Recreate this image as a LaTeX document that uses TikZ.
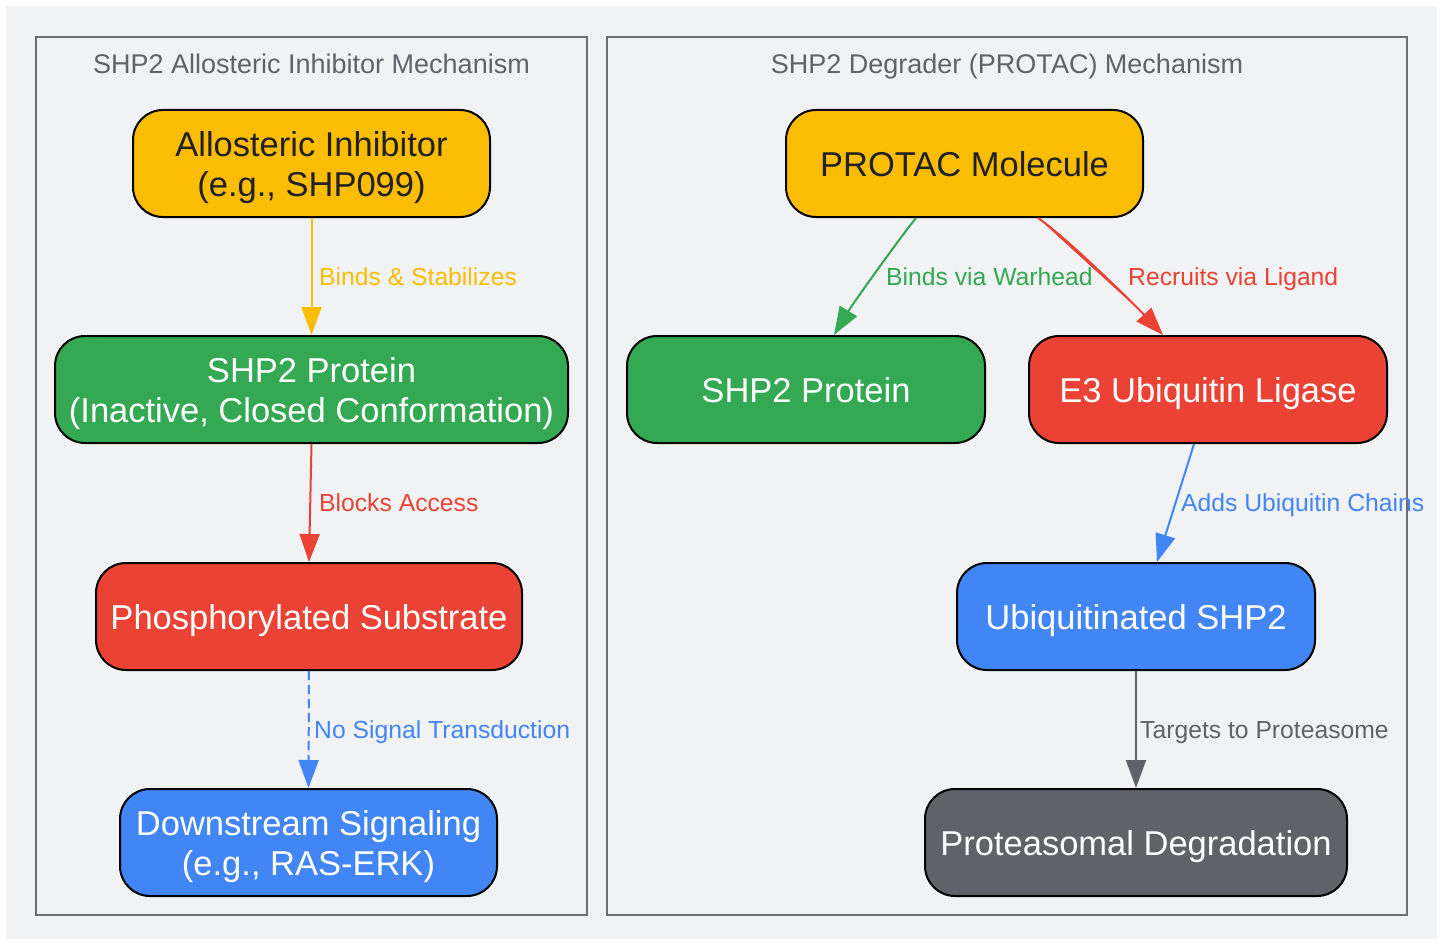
\documentclass[tikz,border=0pt]{standalone}
\usepackage{fontspec}
\setmainfont{Liberation Sans}
\usetikzlibrary{arrows.meta}
\definecolor{bgc}{HTML}{F1F2F4}
\definecolor{gy}{HTML}{FBBC04}
\definecolor{gg}{HTML}{34A853}
\definecolor{gr}{HTML}{EA4335}
\definecolor{gb}{HTML}{4285F4}
\definecolor{gd}{HTML}{5F6368}
\definecolor{txtdark}{HTML}{202124}
\definecolor{clborder}{HTML}{6B6D70}
\newcommand{\topstr}{\rule{0pt}{34pt}}
\newcommand{\botstr}{\rule[-7.5pt]{0pt}{7.5pt}}
\begin{document}
\begin{tikzpicture}[x=1pt,y=-1pt,
 box/.style={draw=black, line width=2pt, rounded corners=30pt, minimum height=107pt, inner sep=0pt, align=center, font=\fontsize{34.5}{40}\selectfont, text=white},
 conn/.style={line width=2pt, -{Triangle[length=28pt,width=20pt]}},
 elab/.style={anchor=west, font=\fontsize{24.7}{28}\selectfont, inner sep=0pt, text height=18pt, text depth=1pt},
 ctitle/.style={font=\fontsize{27}{30}\selectfont, text=gd, inner sep=0pt, text height=20pt, text depth=0pt},
 cluster/.style={draw=clborder, line width=2.2pt}]
\useasboundingbox (0,0) rectangle (1446,939);
\fill[white] (0,0) rectangle (1446,939);
\fill[bgc] (6,6) rectangle (1437,939);
% clusters
\draw[cluster] (36,37) rectangle (587,915);
\draw[cluster] (607,37) rectangle (1407,915);
\node[ctitle] (t1) at (311.5,63.5) {SHP2 Allosteric Inhibitor Mechanism};
\node[ctitle] (t2) at (1007,63.5) {SHP2 Degrader (PROTAC) Mechanism};
% left nodes
\node[box, fill=gy, text=txtdark, minimum width=357pt] (ai) at (311.5,163.5) {\topstr Allosteric Inhibitor\\(e.g., SHP099)\botstr};
\node[box, fill=gg, minimum width=513pt] (shpa) at (311.5,389.5) {\topstr SHP2 Protein\\(Inactive, Closed Conformation)\botstr};
\node[box, fill=gr, minimum width=426pt] (phos) at (309,616.5) {\topstr Phosphorylated Substrate\botstr};
\node[box, fill=gb, minimum width=377pt] (down) at (308.5,842.5) {\topstr Downstream Signaling\\(e.g., RAS-ERK)\botstr};
% right nodes
\node[box, fill=gy, text=txtdark, minimum width=357pt] (protac) at (964.5,163.5) {\topstr PROTAC Molecule\botstr};
\node[box, fill=gg, minimum width=358pt] (shpb) at (806,389.5) {\topstr SHP2 Protein\botstr};
\node[box, fill=gr, minimum width=358pt] (e3) at (1208,389.5) {\topstr E3 Ubiquitin Ligase\botstr};
\node[box, fill=gb, minimum width=358pt] (ubq) at (1136,616.5) {\topstr Ubiquitinated SHP2\botstr};
\node[box, fill=gd, minimum width=422pt] (pd) at (1136,842.5) {\topstr Proteasomal Degradation\botstr};
% connectors
\draw[conn, draw=gy, fill=gy] (ai.south) -- (shpa.north);
\draw[conn, draw=gr, fill=gr] (shpa.south) -- (phos.north);
\draw[conn, draw=gb, fill=gb, dash pattern=on 9pt off 5pt] (phos.south) -- (down.north);
\draw[conn, draw=gg, fill=gg] ([xshift=-48.5pt]protac.south) .. controls (898,240) and (852,305) .. ([xshift=28pt]shpb.north);
\draw[conn, draw=gr, fill=gr] ([xshift=73.5pt]protac.south) .. controls (1066,237) and (1135,305) .. ([xshift=-45pt]e3.north);
\draw[conn, draw=gb, fill=gb] ([xshift=-14pt]e3.south) -- ([xshift=21pt]ubq.north);
\draw[conn, draw=gd, fill=gd] (ubq.south) -- (pd.north);
% labels
\node[elab, text=gy] (l1) at (319,276.5) {Binds \& Stabilizes};
\node[elab, text=gr] (l2) at (319,503) {Blocks Access};
\node[elab, text=gb] (l3) at (314,730) {No Signal Transduction};
\node[elab, text=gg] (l4) at (886,276.5) {Binds via Warhead};
\node[elab, text=gr] (l5) at (1128,276.5) {Recruits via Ligand};
\node[elab, text=gb] (l6) at (1181,503) {Adds Ubiquitin Chains};
\node[elab, text=gd] (l7) at (1140,730) {Targets to Proteasome};
\end{tikzpicture}
\end{document}
